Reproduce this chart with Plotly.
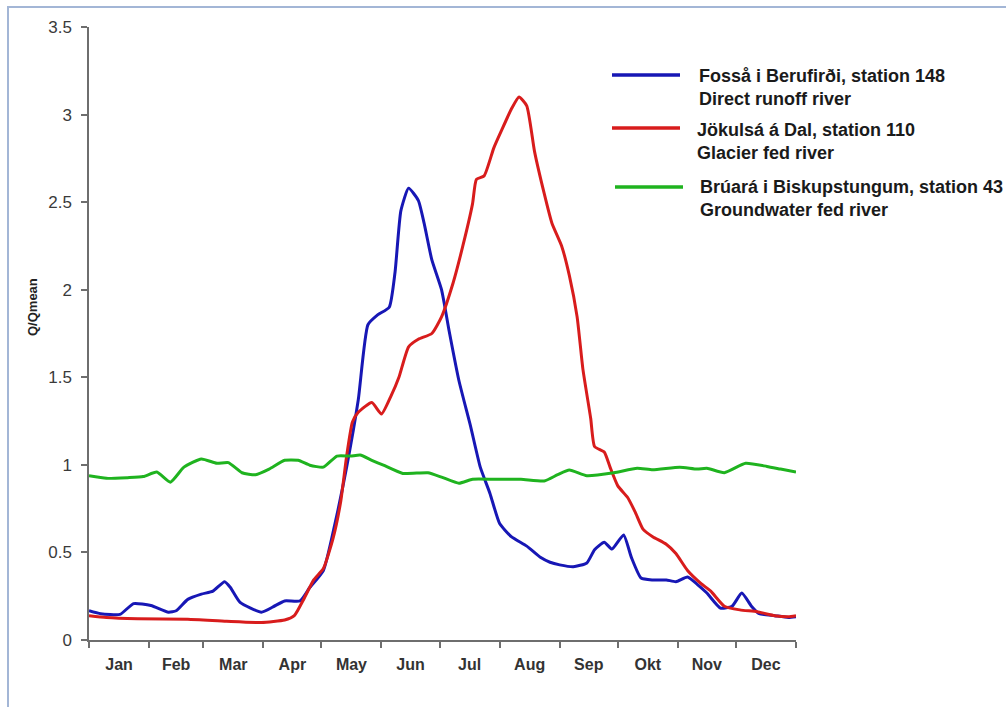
import plotly.graph_objects as go

# ---- data: Q/Qmean by day of year ----
fossa_days = [0, 6, 16, 23, 32, 41, 45, 51, 58, 64, 70, 73, 78, 89, 95, 101, 109, 114, 121, 127,
              133, 139, 144, 149, 155, 158, 161, 165, 170, 173, 177, 182, 186, 191, 197, 202, 207,
              212, 218, 226, 233, 238, 243, 250, 257, 261, 266, 270, 276, 280, 285, 291, 298, 303,
              309, 314, 319, 326, 332, 337, 342, 346, 354, 361, 365]
fossa_vals = [0.167, 0.15, 0.146, 0.208, 0.197, 0.159, 0.167, 0.232, 0.262, 0.279, 0.333, 0.30,
              0.215, 0.159, 0.189, 0.223, 0.223, 0.30, 0.397, 0.665, 0.987, 1.37, 1.80, 1.856,
              1.90, 2.10, 2.45, 2.58, 2.51, 2.38, 2.17, 2.0, 1.76, 1.48, 1.22, 0.987, 0.837, 0.665,
              0.59, 0.536, 0.472, 0.444, 0.429, 0.418, 0.44, 0.515, 0.558, 0.519, 0.60, 0.472,
              0.354, 0.343, 0.343, 0.333, 0.36, 0.318, 0.268, 0.182, 0.193, 0.268, 0.193, 0.15,
              0.139, 0.129, 0.133]

jokulsa_days = [0, 9, 25, 51, 71, 89, 101, 106, 111, 116, 121, 126, 130, 133, 136, 139, 146, 151,
                156, 160, 165, 170, 177, 182, 188, 193, 198, 200, 204, 209, 213, 218, 222, 226,
                230, 235, 239, 244, 248, 252, 255, 259, 261, 266, 269, 273, 278, 282, 286, 291,
                298, 303, 309, 316, 321, 328, 336, 345, 354, 361, 365]
jokulsa_vals = [0.139, 0.129, 0.122, 0.118, 0.107, 0.10, 0.114, 0.139, 0.236, 0.343, 0.408, 0.58,
                0.794, 1.05, 1.245, 1.30, 1.356, 1.29, 1.395, 1.50, 1.674, 1.717, 1.75, 1.845,
                2.04, 2.25, 2.49, 2.63, 2.65, 2.81, 2.91, 3.03, 3.10, 3.05, 2.79, 2.55, 2.38,
                2.25, 2.08, 1.845, 1.545, 1.266, 1.105, 1.073, 0.987, 0.88, 0.815, 0.73, 0.633,
                0.59, 0.547, 0.494, 0.397, 0.322, 0.279, 0.193, 0.172, 0.161, 0.139, 0.133, 0.139]

bruara_days = [0, 9, 20, 28, 35, 42, 49, 58, 66, 72, 79, 86, 93, 101, 108, 114, 121, 128, 135,
               140, 146, 152, 162, 175, 182, 191, 198, 209, 223, 235, 242, 248, 257, 271, 283,
               291, 305, 314, 319, 328, 339, 350, 357, 365]
bruara_vals = [0.938, 0.923, 0.927, 0.933, 0.959, 0.901, 0.987, 1.034, 1.009, 1.013, 0.955, 0.944,
               0.976, 1.026, 1.026, 0.998, 0.987, 1.05, 1.05, 1.056, 1.026, 0.998, 0.951, 0.955,
               0.93, 0.895, 0.918, 0.918, 0.918, 0.908, 0.944, 0.97, 0.938, 0.955, 0.981, 0.972,
               0.987, 0.976, 0.981, 0.955, 1.009, 0.991, 0.976, 0.959]

month_starts = [0, 31, 59, 90, 120, 151, 181, 212, 243, 273, 304, 334, 365]
month_labels = ["Jan", "Feb", "Mar", "Apr", "May", "Jun", "Jul", "Aug", "Sep", "Okt", "Nov", "Dec"]
y_ticks = [0, 0.5, 1, 1.5, 2, 2.5, 3, 3.5]
y_tick_text = ["0", "0.5", "1", "1.5", "2", "2.5", "3", "3.5"]

series = [
    ("Fosså i Berufirði, station 148", "Direct runoff river", fossa_days, fossa_vals, "#1717b5"),
    ("Jökulsá á Dal, station 110", "Glacier fed river", jokulsa_days, jokulsa_vals, "#d81c1c"),
    ("Brúará i Biskupstungum, station 43", "Groundwater fed river", bruara_days, bruara_vals, "#1fb31f"),
]

W, H = 1006, 707
L, R, T, B = 89, 210, 27, 67
PW, PH = W - L - R, H - T - B


def px(xp):
    return (xp - L) / PW


def py(yp):
    return (H - B - yp) / PH


FONT = "Liberation Sans, Arial, sans-serif"

fig = go.Figure()
for name, sub, d, v, col in series:
    fig.add_trace(go.Scatter(
        x=d, y=v, mode="lines", name=name,
        line=dict(color=col, width=3, shape="spline", smoothing=0.5),
        showlegend=False, hoverinfo="skip",
    ))

month_mid = [(month_starts[i] + month_starts[i + 1]) / 2 for i in range(12)]

fig.update_layout(
    width=W, height=H,
    margin=dict(l=L, r=R, t=T, b=B, pad=0),
    paper_bgcolor="white", plot_bgcolor="white",
    font=dict(family=FONT, color="#333333"),
    xaxis=dict(
        range=[0, 365], showgrid=False, zeroline=False,
        showline=True, linecolor="#6e6e6e", linewidth=1.5,
        tickmode="array", tickvals=month_mid, ticktext=month_labels,
        ticks="", ticklen=0, ticklabelstandoff=9,
        tickfont=dict(size=16, color="#333333", weight="bold"),
        minor=dict(tickmode="array", tickvals=month_starts, ticks="outside",
                   ticklen=6, tickwidth=1.5, tickcolor="#6e6e6e", showgrid=False),
    ),
    yaxis=dict(
        range=[0, 3.5], showgrid=False, zeroline=False,
        showline=True, linecolor="#6e6e6e", linewidth=1.5,
        tickmode="array", tickvals=y_ticks, ticktext=y_tick_text,
        ticks="outside", ticklen=6, tickwidth=1.5, tickcolor="#6e6e6e",
        ticklabelstandoff=6,
        tickfont=dict(size=17, color="#3a3a3a"),
    ),
)

# y-axis title
fig.add_annotation(
    x=px(32), y=py(307), xref="paper", yref="paper",
    text="Q/Qmean", textangle=-90, showarrow=False,
    xanchor="center", yanchor="middle",
    font=dict(size=13, color="#222222", family=FONT, weight="bold"),
)

# legend: sample line + two-line label per river
legend_rows = [(75, 87.5, 612, 680, 697), (128, 141.5, 612, 680, 695), (187, 198.5, 615, 683, 698)]
for (name, sub, d, v, col), (ly, ty, x0, x1, tx) in zip(series, legend_rows):
    fig.add_shape(type="line", xref="paper", yref="paper",
                  x0=px(x0), x1=px(x1), y0=py(ly), y1=py(ly),
                  line=dict(color=col, width=3.5))
    fig.add_annotation(
        x=px(tx), y=py(ty), xref="paper", yref="paper",
        text=f"{name}<br>{sub}", showarrow=False, align="left",
        xanchor="left", yanchor="middle",
        font=dict(size=18, color="#1a1a1a", family=FONT, weight="bold"),
    )

# outer frame (left and top edges)
frame_col = "#a3b6d6"
fig.add_shape(type="line", xref="paper", yref="paper",
              x0=px(8), x1=px(8), y0=py(7), y1=py(H + 5),
              line=dict(color=frame_col, width=2))
fig.add_shape(type="line", xref="paper", yref="paper",
              x0=px(7), x1=px(W + 5), y0=py(7), y1=py(7),
              line=dict(color=frame_col, width=2))

fig.write_html("out.html")
